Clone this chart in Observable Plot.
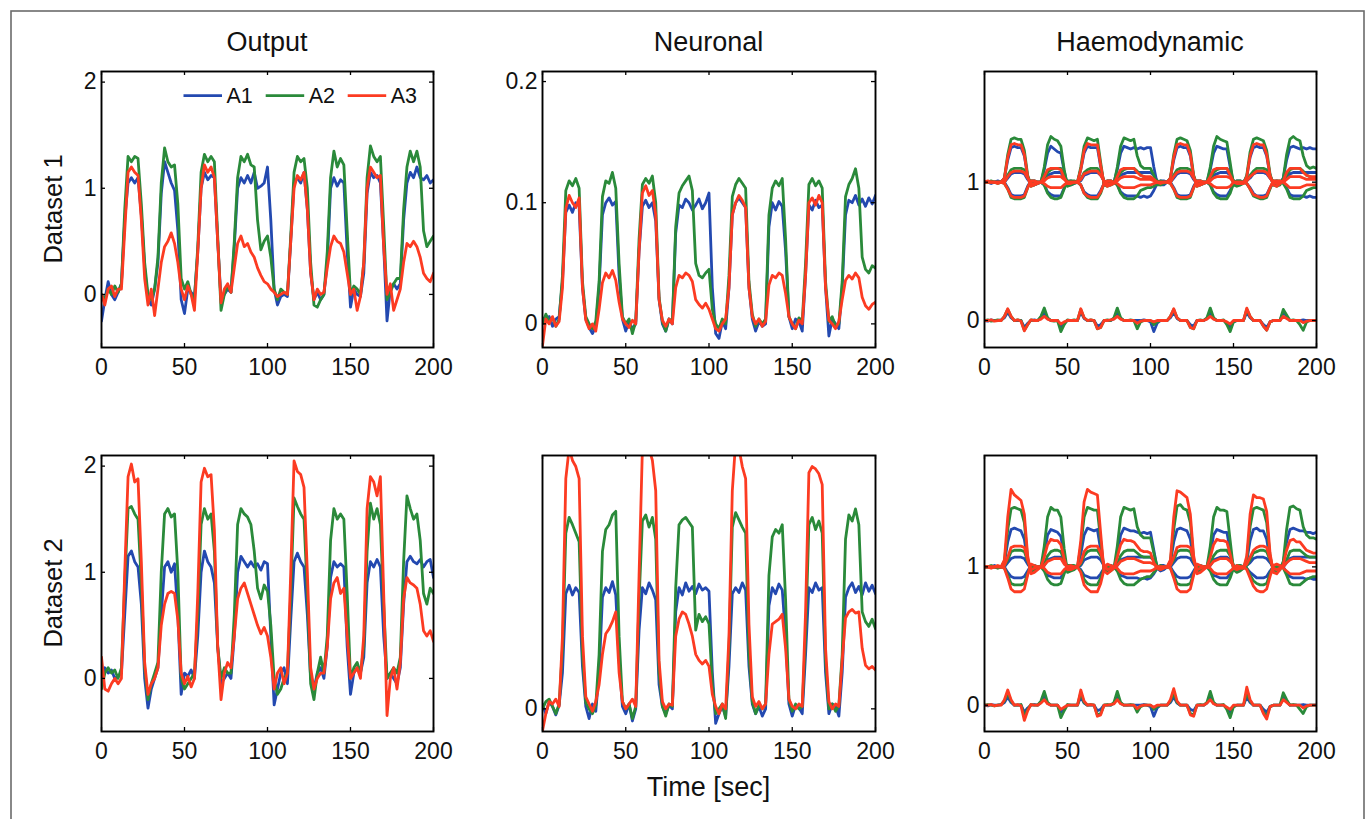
<!DOCTYPE html>
<html>
<head>
<meta charset="utf-8">
<script src="https://cdn.jsdelivr.net/npm/d3@7"></script>
<script src="https://cdn.jsdelivr.net/npm/@observablehq/plot@0.6"></script>
<style>
html,body{margin:0;padding:0;background:#fff;}
#page{position:relative;width:1367px;height:819px;overflow:hidden;font-family:"Liberation Sans",Arial,Helvetica,sans-serif;}
#page svg{position:absolute;overflow:visible;}
</style>
</head>
<body>
<div id="page"></div>
<script>
// ---------- labels ----------
const colTitles = ["Output", "Neuronal", "Haemodynamic"];
const rowLabels = ["Dataset 1", "Dataset 2"];
const xLabel = "Time [sec]";
const regions = ["A1", "A2", "A3"];
const regionColors = ["#2349b0", "#2a8a3a", "#fc3b22"];
const xTicks = [0, 50, 100, 150, 200];

// ---------- time grid (sec) ----------
const time = [0,2,4,6,8,10,12,14,16,18,20,22,24,26,28,30,32,34,36,38,40,42,44,46,48,50,52,54,56,58,
60,62,64,66,68,70,72,74,76,78,80,82,84,86,88,90,92,94,96,98,100,102,104,106,108,110,112,114,116,118,
120,122,124,126,128,130,132,134,136,138,140,142,144,146,148,150,152,154,156,158,160,162,164,166,168,170,172,174,176,178,
180,182,184,186,188,190,192,194,196,198,200];

// ---------- Output, Dataset 1 ----------
const out1_A1 = [-0.25,-0.05,0.12,0.0,-0.05,0.02,0.1,0.7,1.05,1.1,
1.05,1.1,0.75,0.25,-0.05,-0.1,0.05,0.3,0.95,1.25,
1.15,1.05,0.98,0.6,-0.05,-0.18,0.05,0.02,-0.02,0.4,
1.0,1.15,1.08,1.12,1.1,0.5,-0.05,0.0,0.05,0.02,
0.45,1.0,1.1,1.05,1.12,1.05,1.15,1.0,1.02,1.05,
1.2,0.7,0.05,-0.1,-0.02,0.0,-0.02,0.5,1.05,1.1,
1.05,1.15,0.8,0.2,-0.05,0.02,-0.05,0.0,0.3,1.0,
1.1,1.02,1.08,1.05,0.4,-0.12,0.05,0.0,-0.02,0.2,
0.95,1.15,1.1,1.12,1.05,0.45,-0.25,0.05,0.1,0.05,
0.1,0.7,1.05,1.15,1.1,1.2,1.1,1.08,1.12,1.05,
1.08];
const out1_A2 = [0.0,-0.05,0.05,0.0,0.08,0.02,0.1,0.8,1.3,1.25,
1.3,1.28,0.85,0.3,0.0,-0.05,0.05,0.35,1.05,1.38,
1.25,1.2,1.22,0.85,0.15,0.05,0.12,0.0,-0.05,0.45,
1.15,1.32,1.25,1.3,1.25,0.55,-0.15,0.0,0.08,0.02,
0.5,1.1,1.3,1.25,1.32,1.22,1.2,0.7,0.42,0.5,
0.55,0.35,0.05,-0.05,0.05,0.02,0.0,0.55,1.15,1.3,
1.25,1.28,1.0,0.3,-0.1,-0.12,-0.05,0.0,0.4,1.1,
1.35,1.2,1.28,1.22,0.6,0.0,0.08,0.05,0.0,0.3,
1.1,1.4,1.3,1.25,1.3,0.65,-0.05,0.02,0.1,0.15,
0.15,0.8,1.2,1.35,1.25,1.35,1.2,0.6,0.45,0.5,
0.55];
const out1_A3 = [0.0,-0.1,0.05,0.08,-0.02,0.05,0.05,0.6,1.15,1.2,
1.15,1.12,0.7,0.15,-0.1,0.05,-0.2,0.05,0.3,0.45,
0.5,0.58,0.48,0.3,0.05,-0.05,0.08,0.0,-0.15,0.4,
1.0,1.22,1.15,1.2,1.1,0.5,-0.08,0.05,0.1,0.02,
0.25,0.48,0.55,0.45,0.48,0.4,0.35,0.25,0.18,0.12,
0.1,0.05,0.02,-0.02,0.0,0.02,0.0,0.5,1.0,1.12,
1.08,1.15,0.8,0.2,-0.05,0.05,0.0,0.02,0.25,0.45,
0.55,0.5,0.48,0.4,0.2,0.0,0.05,-0.15,-0.02,0.3,
1.0,1.2,1.15,1.1,1.12,0.45,0.0,0.1,-0.15,-0.05,
0.05,0.3,0.48,0.45,0.5,0.45,0.35,0.2,0.15,0.12,
0.2];

// ---------- Output, Dataset 2 ----------
const out2_A1 = [0.0,0.1,0.05,0.08,0.0,0.02,0.05,0.6,1.15,1.2,
1.1,1.05,0.7,0.0,-0.28,-0.1,0.0,0.1,0.6,1.05,
1.1,1.0,1.08,0.6,-0.15,0.05,0.02,0.08,0.0,0.4,
1.0,1.2,1.1,1.05,0.9,0.3,-0.05,0.0,0.05,0.0,
0.4,1.0,1.15,1.1,1.05,1.1,1.05,1.08,1.02,1.1,
1.08,0.4,-0.25,-0.1,0.05,0.1,-0.05,0.55,1.1,1.18,
1.1,1.05,0.6,0.0,-0.1,0.05,0.1,0.0,0.3,0.95,
1.1,1.05,1.08,1.05,0.3,-0.15,0.05,0.1,0.05,0.2,
0.9,1.1,1.05,1.12,1.05,0.4,0.0,0.05,0.0,-0.05,
0.1,0.7,1.1,1.15,1.1,1.08,1.12,1.05,1.1,1.12,
0.95];
const out2_A2 = [-0.1,0.05,0.1,0.05,0.08,0.0,0.1,0.9,1.6,1.62,
1.55,1.5,0.9,0.1,-0.2,-0.05,0.05,0.15,1.0,1.55,
1.6,1.52,1.55,1.0,0.0,-0.1,-0.05,0.0,0.05,0.6,
1.45,1.6,1.5,1.55,1.2,0.3,0.0,0.1,0.05,0.05,
0.6,1.45,1.6,1.55,1.52,1.45,1.2,0.85,0.75,0.88,
0.82,0.5,0.0,-0.15,-0.1,0.0,0.05,0.8,1.7,1.62,
1.55,1.5,0.8,-0.05,-0.2,0.05,0.2,0.05,0.4,1.3,
1.6,1.5,1.55,1.5,0.8,0.0,0.1,0.15,0.05,0.3,
1.2,1.65,1.5,1.6,1.45,0.7,0.0,0.05,0.1,0.05,
0.2,1.1,1.72,1.6,1.5,1.55,1.3,0.8,0.7,0.85,
0.8];
const out2_A3 = [0.2,-0.1,-0.12,-0.05,0.0,-0.05,0.0,1.0,1.9,2.02,
1.85,1.88,1.1,0.15,-0.15,-0.05,0.0,0.1,0.5,0.7,
0.8,0.82,0.8,0.55,0.05,-0.05,0.02,-0.08,0.0,0.8,
1.85,1.98,1.9,1.92,1.4,0.3,-0.2,0.05,0.15,0.1,
0.4,0.75,0.85,0.9,0.8,0.7,0.6,0.5,0.42,0.48,
0.4,0.2,-0.1,0.05,0.1,-0.05,0.05,1.0,2.05,1.95,
1.92,1.8,1.0,0.1,-0.1,0.0,0.05,0.05,0.3,0.75,
0.9,0.95,0.8,0.85,0.4,0.0,0.05,0.1,0.0,0.4,
1.6,1.9,1.85,1.72,1.9,0.8,-0.35,0.0,0.1,-0.1,
0.15,0.75,0.95,0.9,0.88,0.85,0.7,0.45,0.4,0.45,
0.35];

// ---------- Neuronal, Dataset 1 ----------
const neu1_A1 = [0.005,0.003,0.006,-0.002,0.004,0.006,0.035,0.092,0.098,0.092,
0.1,0.097,0.03,0.004,-0.003,-0.008,-0.002,0.03,0.09,0.1,
0.104,0.098,0.101,0.04,0.004,-0.006,0.002,-0.004,0.0,0.06,
0.097,0.102,0.096,0.1,0.085,0.02,0.0,-0.006,0.004,0.0,
0.075,0.098,0.096,0.103,0.1,0.094,0.098,0.103,0.095,0.1,
0.108,0.03,-0.008,-0.012,0.002,-0.004,0.03,0.09,0.1,0.104,
0.1,0.096,0.03,0.004,-0.006,0.002,-0.002,0.0,0.08,0.1,
0.094,0.101,0.097,0.06,0.006,-0.004,0.004,0.002,-0.006,0.04,
0.098,0.094,0.102,0.096,0.098,0.03,-0.01,0.004,0.0,-0.004,
0.03,0.09,0.102,0.1,0.106,0.098,0.103,0.097,0.104,0.099,
0.106];
const neu1_A2 = [0.0,0.008,0.002,0.005,-0.002,0.004,0.04,0.11,0.118,0.114,
0.12,0.112,0.035,0.006,0.0,-0.004,0.002,0.035,0.105,0.118,
0.116,0.125,0.112,0.05,0.006,0.0,0.004,-0.008,0.002,0.07,
0.115,0.12,0.116,0.122,0.1,0.022,0.002,-0.006,0.004,0.002,
0.08,0.108,0.114,0.118,0.122,0.11,0.05,0.04,0.038,0.042,
0.045,0.012,0.0,-0.004,0.004,0.0,0.04,0.105,0.115,0.12,
0.116,0.112,0.035,0.008,-0.002,0.004,0.0,0.004,0.09,0.112,
0.118,0.114,0.12,0.07,0.006,0.0,-0.004,0.005,0.002,0.05,
0.115,0.12,0.114,0.118,0.112,0.035,0.002,0.006,-0.002,0.0,
0.035,0.105,0.115,0.12,0.128,0.112,0.055,0.045,0.042,0.048,
0.046];
const neu1_A3 = [-0.018,0.004,0.0,0.006,-0.002,0.002,0.03,0.095,0.106,0.1,
0.096,0.104,0.03,0.003,-0.004,0.0,-0.006,0.012,0.034,0.042,
0.038,0.044,0.036,0.018,0.004,0.0,-0.003,0.003,0.0,0.06,
0.108,0.114,0.106,0.11,0.09,0.02,0.003,-0.002,0.004,0.0,
0.03,0.04,0.038,0.042,0.04,0.035,0.02,0.016,0.013,0.017,
0.012,0.004,-0.004,-0.006,0.0,0.004,0.03,0.09,0.1,0.106,
0.102,0.096,0.03,0.006,0.0,0.004,-0.002,0.002,0.032,0.04,
0.038,0.042,0.04,0.025,0.006,0.0,-0.004,0.003,0.0,0.04,
0.1,0.104,0.098,0.106,0.1,0.03,0.003,0.0,-0.004,0.002,
0.02,0.036,0.04,0.037,0.042,0.038,0.022,0.015,0.012,0.016,
0.018];

// ---------- Neuronal, Dataset 2 ----------
const neu2_A1 = [0.004,-0.004,0.006,0.002,-0.005,0.003,0.03,0.095,0.102,0.094,
0.1,0.096,0.035,0.002,-0.008,0.004,-0.002,0.03,0.092,0.1,
0.096,0.105,0.094,0.04,0.002,-0.004,0.004,-0.01,0.0,0.065,
0.1,0.095,0.104,0.098,0.09,0.02,0.002,-0.004,0.003,0.0,
0.08,0.1,0.094,0.104,0.097,0.101,0.095,0.103,0.098,0.1,
0.097,0.03,-0.012,-0.004,0.002,-0.006,0.035,0.095,0.1,0.096,
0.104,0.098,0.035,0.004,-0.004,0.002,-0.006,0.0,0.085,0.1,
0.095,0.103,0.098,0.06,0.004,-0.006,0.003,0.001,-0.004,0.045,
0.1,0.096,0.104,0.098,0.1,0.03,-0.004,0.004,0.002,-0.006,
0.03,0.092,0.1,0.104,0.096,0.101,0.094,0.104,0.097,0.102,
0.095];
const neu2_A2 = [0.0,0.006,0.008,0.002,-0.004,0.004,0.05,0.145,0.158,0.152,
0.145,0.138,0.045,0.005,0.0,-0.004,0.003,0.045,0.13,0.148,
0.152,0.16,0.163,0.06,0.006,0.0,0.004,-0.008,0.002,0.09,
0.155,0.16,0.15,0.158,0.14,0.03,0.002,-0.006,0.004,0.002,
0.1,0.152,0.156,0.158,0.154,0.15,0.065,0.078,0.072,0.076,
0.07,0.02,-0.004,0.0,0.004,-0.008,0.05,0.15,0.162,0.156,
0.15,0.145,0.045,0.006,-0.004,0.003,0.0,0.004,0.11,0.142,
0.148,0.145,0.152,0.09,0.008,-0.002,0.004,0.0,0.002,0.06,
0.152,0.158,0.148,0.155,0.145,0.04,0.0,0.004,-0.002,0.003,
0.045,0.14,0.16,0.155,0.165,0.152,0.08,0.072,0.068,0.074,
0.066];
const neu2_A3 = [-0.018,-0.004,0.006,0.004,0.008,0.002,0.06,0.19,0.215,0.205,
0.2,0.19,0.06,0.01,0.004,-0.002,0.006,0.02,0.045,0.062,
0.066,0.072,0.08,0.03,0.006,0.0,0.004,0.008,0.002,0.11,
0.215,0.22,0.215,0.205,0.18,0.04,0.006,0.0,0.004,0.003,
0.06,0.074,0.08,0.078,0.07,0.06,0.045,0.04,0.037,0.04,
0.035,0.012,0.002,-0.004,0.004,0.0,0.06,0.18,0.22,0.215,
0.2,0.19,0.07,0.01,0.002,0.006,0.0,0.004,0.045,0.07,
0.072,0.074,0.078,0.05,0.008,0.002,0.0,0.004,0.002,0.08,
0.195,0.2,0.198,0.194,0.185,0.05,0.006,0.0,0.004,0.002,
0.04,0.075,0.08,0.082,0.079,0.08,0.05,0.036,0.033,0.035,
0.032];

// ---------- Haemodynamic, Dataset 1 (s, f, v, q per region) ----------
const hae1_A1_s = [0,-0.005,0.005,0,0,0.005,
0.02,0.06,0.02,0,0,0,-0.05,-0.02,0,0.005,0,
0.02,0.06,0.015,0,0,0,-0.05,-0.02,0,0,0,0,
0.06,0.015,0,0,0,-0.04,-0.03,0,0,0,0.015,
0.06,0.015,0,0,0,0,0,0,0.005,0,-0.01,-0.08,-0.02,0,0,0,
0.02,0.06,0.015,0,0,0,-0.03,-0.04,0,0,0,
0.015,0.06,0.015,0,0,0,-0.02,-0.05,-0.01,0,0,
0,0.06,0.02,0,0,0,-0.03,-0.05,-0.01,0,0,0,
0.06,0.03,0,0,0,0,0.005,0,0,0,0];
const hae1_A1_f = [1.0,1.0,0.99,1.0,1.01,1.0,
1.03,1.16,1.25,1.26,1.25,1.25,1.19,1.04,0.98,0.98,0.99,
1.0,1.09,1.21,1.26,1.24,1.22,1.21,1.08,0.98,0.98,0.99,1.0,
1.09,1.21,1.26,1.25,1.25,1.25,1.11,0.99,0.98,0.98,1.0,
1.09,1.21,1.26,1.25,1.24,1.25,1.24,1.25,1.24,1.25,1.25,1.11,0.99,0.98,0.98,1.0,
1.03,1.16,1.25,1.26,1.25,1.25,1.19,1.04,0.98,0.98,0.99,
1.0,1.09,1.21,1.26,1.25,1.24,1.24,1.11,0.99,0.98,0.98,
1.0,1.04,1.18,1.25,1.26,1.25,1.25,1.19,1.05,0.98,0.98,0.99,
1.03,1.16,1.25,1.26,1.25,1.24,1.25,1.24,1.25,1.24,1.24];
const hae1_A1_v = [1,1,1,1,1,1,
1.0,1.03,1.06,1.07,1.07,1.07,1.06,1.02,0.99,0.99,1.0,
1.0,1.01,1.05,1.06,1.07,1.07,1.07,1.03,1.0,0.99,1.0,1.0,
1.01,1.05,1.06,1.07,1.07,1.07,1.05,1.01,0.99,0.99,1.0,
1.01,1.05,1.06,1.07,1.07,1.07,1.07,1.07,1.07,1.07,1.07,1.05,1.01,0.99,0.99,1.0,
1.0,1.03,1.06,1.07,1.07,1.07,1.06,1.02,0.99,0.99,1.0,
1.0,1.01,1.05,1.06,1.07,1.07,1.07,1.05,1.01,0.99,0.99,
1.0,1.01,1.03,1.06,1.07,1.07,1.07,1.06,1.03,1.0,0.99,1.0,
1.0,1.03,1.06,1.07,1.07,1.07,1.07,1.07,1.07,1.07,1.07];
const hae1_A1_q = [1,1,1,1,1,1,
1.0,0.96,0.91,0.9,0.9,0.9,0.91,0.97,1.01,1.01,1.0,
1.0,0.98,0.93,0.91,0.9,0.9,0.9,0.96,1.0,1.01,1.0,1.0,
0.98,0.93,0.91,0.9,0.9,0.9,0.94,0.99,1.01,1.01,1.0,
0.98,0.93,0.91,0.9,0.9,0.9,0.9,0.89,0.9,0.89,0.9,0.94,0.99,1.01,1.01,1.0,
1.0,0.96,0.91,0.9,0.9,0.9,0.91,0.97,1.01,1.01,1.0,
1.0,0.98,0.93,0.91,0.9,0.9,0.9,0.94,0.99,1.01,1.01,
1.0,0.99,0.96,0.92,0.9,0.9,0.9,0.91,0.96,1.0,1.01,1.0,
1.0,0.96,0.91,0.9,0.9,0.9,0.9,0.89,0.9,0.89,0.89];

const hae1_A2_s = [0,0.005,-0.005,0,0.005,0,
0.03,0.08,0.03,0,0.005,0,-0.07,-0.03,0.005,0,0,
0.03,0.09,0.02,0,-0.005,0,-0.08,-0.03,0.005,0,0.005,0,
0.08,0.02,0,0.005,0,-0.06,-0.05,0,0.005,0,0.02,
0.09,0.02,0,0,0.005,0,-0.06,-0.01,0,0,0,-0.03,-0.01,0,0,0,
0.03,0.08,0.02,0,0,0,-0.05,-0.06,0,0.005,0,
0.02,0.09,0.02,0,0,0.005,-0.03,-0.08,-0.01,0,0,
0,0.08,0.03,0,0,0,-0.04,-0.07,-0.01,0,0,0,
0.08,0.04,0,0.005,0,-0.03,-0.07,-0.01,0,0,0];
const hae1_A2_f = [1.0,1.0,1.01,1.0,0.99,1.0,
1.03,1.2,1.31,1.32,1.31,1.31,1.23,1.05,0.97,0.98,0.99,
1.0,1.11,1.27,1.33,1.31,1.3,1.26,1.09,0.97,0.98,0.99,1.0,
1.11,1.26,1.32,1.31,1.3,1.31,1.14,0.98,0.97,0.98,0.99,
1.11,1.26,1.32,1.31,1.3,1.31,1.19,1.12,1.1,1.1,1.1,1.05,0.98,0.98,0.99,1.0,
1.03,1.2,1.31,1.32,1.31,1.3,1.23,1.05,0.97,0.98,0.99,
1.0,1.11,1.26,1.33,1.31,1.3,1.29,1.14,0.98,0.97,0.98,
0.99,1.05,1.22,1.31,1.32,1.31,1.3,1.23,1.06,0.98,0.97,0.98,
1.03,1.2,1.31,1.33,1.31,1.3,1.19,1.12,1.1,1.11,1.1];
const hae1_A2_v = [1,1,1,1,1,1,
1.0,1.05,1.09,1.1,1.1,1.1,1.09,1.04,0.99,0.99,1.0,
1.0,1.02,1.07,1.09,1.1,1.1,1.1,1.04,1.0,0.99,1.0,1.0,
1.02,1.07,1.09,1.1,1.1,1.1,1.07,1.01,0.99,0.99,1.0,
1.02,1.07,1.09,1.1,1.1,1.1,1.08,1.05,1.04,1.03,1.03,1.03,1.01,1.0,1.0,1.0,
1.0,1.05,1.09,1.1,1.1,1.1,1.09,1.04,0.99,0.99,1.0,
1.0,1.02,1.07,1.09,1.1,1.1,1.1,1.07,1.01,0.99,0.99,
1.0,1.01,1.05,1.08,1.1,1.1,1.1,1.09,1.04,1.0,0.99,1.0,
1.0,1.05,1.09,1.1,1.1,1.1,1.08,1.05,1.04,1.03,1.03];
const hae1_A2_q = [1,1,1,1,1,1,
0.99,0.95,0.89,0.88,0.88,0.88,0.89,0.96,1.01,1.01,1.0,
1.0,0.98,0.92,0.89,0.88,0.88,0.89,0.95,1.01,1.01,1.01,1.0,
0.98,0.92,0.89,0.88,0.88,0.88,0.92,0.99,1.01,1.01,1.0,
0.98,0.92,0.89,0.88,0.88,0.88,0.9,0.94,0.95,0.96,0.96,0.97,0.99,1.01,1.0,1.0,
0.99,0.95,0.89,0.88,0.88,0.88,0.89,0.96,1.01,1.01,1.0,
1.0,0.98,0.92,0.89,0.88,0.88,0.88,0.92,0.99,1.01,1.01,
1.0,0.99,0.95,0.9,0.89,0.88,0.88,0.89,0.95,1.01,1.01,1.01,
0.99,0.95,0.89,0.88,0.88,0.88,0.9,0.94,0.95,0.96,0.96];

const hae1_A3_s = [0,0,0.005,-0.005,0,0,
0.03,0.085,0.03,0,0.005,-0.005,-0.075,-0.03,0.005,0,0,
0.01,0.03,0.01,0,0,0,-0.025,-0.01,0,0,0,0,
0.085,0.02,0,0.005,0,-0.06,-0.05,0,0,0.005,0.01,
0.03,0.01,0,0,0,0,-0.02,-0.005,0,0,0,-0.01,0,0,0,0,
0.03,0.085,0.02,0,0,0,-0.05,-0.06,0,0,0,
0.01,0.03,0.01,0,0,0,-0.01,-0.025,0,0,0,
0,0.09,0.03,0,0,0,-0.04,-0.07,-0.01,0,0,0,
0.03,0.015,0,0,0,0,-0.015,-0.005,0,0,0];
const hae1_A3_f = [1.0,1.01,1.0,1.0,0.99,1.0,
1.03,1.18,1.27,1.28,1.27,1.27,1.2,1.04,0.97,0.98,0.99,
1.0,1.04,1.09,1.1,1.1,1.1,1.09,1.03,0.99,0.99,1.0,1.0,
1.09,1.23,1.28,1.27,1.27,1.27,1.12,0.99,0.97,0.98,0.99,
1.04,1.09,1.1,1.1,1.1,1.1,1.07,1.05,1.04,1.04,1.04,1.02,1.0,0.99,1.0,1.0,
1.03,1.18,1.27,1.28,1.27,1.27,1.2,1.04,0.97,0.98,0.99,
1.0,1.04,1.09,1.1,1.1,1.1,1.1,1.05,1.0,0.99,0.99,
0.99,1.04,1.19,1.27,1.28,1.27,1.27,1.2,1.05,0.98,0.97,0.99,
1.01,1.07,1.1,1.1,1.1,1.1,1.07,1.05,1.04,1.04,1.04];
const hae1_A3_v = [1,1,1,1,1,1,
1.0,1.04,1.07,1.08,1.08,1.08,1.07,1.03,0.99,0.99,1.0,
1.0,1.01,1.03,1.04,1.04,1.04,1.04,1.02,1.0,1.0,1.0,1.0,
1.02,1.06,1.07,1.08,1.08,1.08,1.05,1.01,0.99,0.99,1.0,
1.01,1.03,1.04,1.04,1.04,1.04,1.03,1.02,1.02,1.02,1.02,1.01,1.0,1.0,1.0,1.0,
1.0,1.04,1.07,1.08,1.08,1.08,1.07,1.03,0.99,0.99,1.0,
1.0,1.01,1.03,1.04,1.04,1.04,1.04,1.03,1.0,1.0,1.0,
1.0,1.01,1.04,1.06,1.08,1.08,1.08,1.07,1.03,1.0,0.99,1.0,
1.0,1.02,1.04,1.04,1.04,1.04,1.03,1.02,1.02,1.02,1.02];
const hae1_A3_q = [1,1,1,1,1,1,
0.99,0.95,0.9,0.89,0.89,0.89,0.9,0.96,1.01,1.01,1.0,
1.0,0.99,0.97,0.96,0.96,0.96,0.96,0.98,1.0,1.0,1.0,1.0,
0.98,0.92,0.9,0.89,0.89,0.89,0.93,0.99,1.01,1.01,1.0,
0.99,0.97,0.96,0.96,0.96,0.96,0.97,0.98,0.98,0.98,0.98,0.99,1.0,1.0,1.0,1.0,
0.99,0.95,0.9,0.89,0.89,0.89,0.9,0.96,1.01,1.01,1.0,
1.0,0.99,0.97,0.96,0.96,0.96,0.96,0.97,1.0,1.0,1.0,
1.0,0.99,0.95,0.91,0.9,0.89,0.89,0.9,0.96,1.01,1.01,1.01,
1.0,0.98,0.96,0.96,0.96,0.96,0.97,0.98,0.98,0.98,0.98];

// ---------- Haemodynamic, Dataset 2 ----------
const hae2_A1_s = hae1_A1_s;
const hae2_A1_f = [1.0,1.0,1.0,1.01,1.0,1.0,
1.03,1.18,1.27,1.28,1.27,1.26,1.2,1.04,0.97,0.98,0.99,
1.0,1.09,1.23,1.27,1.26,1.25,1.22,1.08,0.97,0.98,0.99,1.0,
1.09,1.23,1.28,1.27,1.26,1.27,1.12,0.99,0.97,0.98,0.99,
1.09,1.23,1.28,1.27,1.26,1.26,1.25,1.24,1.25,1.24,1.25,1.12,0.99,0.97,0.98,1.0,
1.03,1.18,1.27,1.28,1.27,1.26,1.2,1.04,0.97,0.98,0.99,
1.0,1.09,1.23,1.27,1.26,1.25,1.25,1.12,0.99,0.97,0.98,
0.99,1.04,1.19,1.27,1.28,1.26,1.26,1.2,1.05,0.98,0.97,0.99,
1.03,1.18,1.27,1.28,1.27,1.26,1.26,1.25,1.25,1.24,1.25];
const hae2_A1_v = hae1_A1_v;
const hae2_A1_q = [1,1,1,1,1,1,
1.0,0.96,0.93,0.92,0.92,0.92,0.93,0.97,1.01,1.01,1.0,
1.0,0.98,0.94,0.93,0.92,0.92,0.92,0.97,1.0,1.01,1.0,1.0,
0.98,0.94,0.93,0.92,0.92,0.92,0.95,0.99,1.01,1.01,1.0,
0.98,0.94,0.93,0.92,0.92,0.92,0.92,0.91,0.92,0.91,0.92,0.95,0.99,1.01,1.01,1.0,
1.0,0.96,0.93,0.92,0.92,0.92,0.93,0.97,1.01,1.01,1.0,
1.0,0.98,0.94,0.93,0.92,0.92,0.92,0.95,0.99,1.01,1.01,
1.0,0.99,0.96,0.94,0.92,0.92,0.92,0.93,0.97,1.0,1.01,1.0,
1.0,0.96,0.93,0.92,0.92,0.92,0.92,0.91,0.92,0.91,0.91];

const hae2_A2_s = [0,0.005,0,-0.005,0,0.005,
0.03,0.09,0.03,0,0,0.005,-0.08,-0.03,0.005,0,0,
0.03,0.1,0.02,0,0,0,-0.09,-0.04,0.005,0,0,0,
0.09,0.02,0,0.005,0,-0.07,-0.06,0,0.005,0,0.02,
0.1,0.02,0,0,0.005,0,-0.05,-0.01,0,0,0,-0.03,-0.01,0,0,0,
0.03,0.09,0.02,0,0,0,-0.06,-0.07,0,0.005,0,
0.02,0.1,0.02,0,0,0.005,-0.03,-0.09,-0.01,0,0,
0,0.09,0.03,0,0,0,-0.05,-0.08,-0.01,0,0,0,
0.09,0.04,0,0.005,0,-0.03,-0.06,-0.01,0,0,0];
const hae2_A2_f = [1.0,1.0,1.01,1.0,0.99,1.0,
1.04,1.27,1.42,1.43,1.42,1.41,1.32,1.06,0.96,0.97,0.99,
1.0,1.15,1.36,1.43,1.41,1.41,1.36,1.13,0.96,0.97,0.98,1.0,
1.15,1.36,1.43,1.42,1.41,1.41,1.19,0.98,0.96,0.97,0.99,
1.15,1.36,1.43,1.42,1.41,1.42,1.29,1.23,1.21,1.21,1.21,1.1,1.0,0.98,0.99,1.0,
1.04,1.27,1.44,1.45,1.42,1.41,1.32,1.06,0.96,0.97,0.99,
1.0,1.15,1.36,1.43,1.41,1.41,1.4,1.19,0.98,0.96,0.97,
0.99,1.06,1.29,1.42,1.43,1.42,1.41,1.32,1.08,0.97,0.96,0.98,
1.04,1.27,1.43,1.44,1.42,1.41,1.29,1.23,1.21,1.21,1.2];
const hae2_A2_v = [1,1,1,1,1,1,
1.01,1.05,1.11,1.12,1.12,1.12,1.11,1.04,0.99,0.99,1.0,
1.0,1.02,1.08,1.11,1.12,1.12,1.11,1.05,0.99,0.99,0.99,1.0,
1.02,1.08,1.11,1.12,1.12,1.12,1.08,1.01,0.99,0.99,1.0,
1.02,1.08,1.11,1.12,1.12,1.12,1.1,1.08,1.07,1.07,1.07,1.05,1.01,0.99,1.0,1.0,
1.01,1.05,1.11,1.12,1.12,1.12,1.11,1.04,0.99,0.99,1.0,
1.0,1.02,1.08,1.11,1.12,1.12,1.12,1.08,1.01,0.99,0.99,
1.0,1.01,1.05,1.1,1.11,1.12,1.12,1.11,1.05,0.99,0.99,0.99,
1.01,1.05,1.11,1.12,1.12,1.12,1.1,1.08,1.07,1.07,1.07];
const hae2_A2_q = [1,1,1,1,1,1,
0.99,0.94,0.88,0.87,0.87,0.87,0.88,0.95,1.01,1.01,1.0,
1.0,0.97,0.91,0.88,0.87,0.87,0.88,0.95,1.01,1.01,1.01,1.0,
0.97,0.91,0.88,0.87,0.87,0.87,0.92,0.99,1.01,1.01,1.0,
0.97,0.91,0.88,0.87,0.87,0.87,0.89,0.91,0.92,0.93,0.93,0.96,0.99,1.01,1.0,1.0,
0.99,0.94,0.88,0.87,0.87,0.87,0.88,0.95,1.01,1.01,1.0,
1.0,0.97,0.91,0.88,0.87,0.87,0.87,0.92,0.99,1.01,1.01,
1.0,0.99,0.94,0.9,0.88,0.87,0.87,0.88,0.95,1.01,1.01,1.01,
0.99,0.94,0.88,0.87,0.87,0.87,0.89,0.91,0.92,0.93,0.93];

const hae2_A3_s = [0,0,0.005,-0.005,0,0,
0.04,0.11,0.04,0,0.005,-0.005,-0.11,-0.04,0.005,0,0,
0.015,0.04,0.01,0,0,0,-0.03,-0.015,0,0,0,0,
0.11,0.03,0,0.005,0,-0.08,-0.07,0,0,0.005,0.01,
0.04,0.01,0,0,0,0,-0.025,-0.005,0,0,0,-0.015,0,0,0,0,
0.04,0.12,0.03,0,0,0,-0.07,-0.08,0,0,0,
0.015,0.04,0.01,0,0,0,-0.015,-0.03,0,0,0,
0,0.13,0.04,0,0,0,-0.06,-0.1,-0.01,0,0,0,
0.04,0.02,0,0,0,0,-0.02,-0.005,0,0,0];
const hae2_A3_f = [1.0,1.0,0.99,1.0,1.01,1.0,
1.05,1.36,1.56,1.52,1.5,1.48,1.38,1.08,0.95,0.96,0.98,
1.0,1.07,1.16,1.2,1.19,1.19,1.16,1.06,0.98,0.98,0.99,1.0,
1.19,1.47,1.56,1.54,1.53,1.52,1.24,0.97,0.95,0.97,0.99,
1.07,1.16,1.2,1.19,1.19,1.18,1.15,1.12,1.11,1.11,1.1,1.03,0.99,0.98,0.99,1.0,
1.05,1.36,1.55,1.54,1.52,1.5,1.38,1.08,0.95,0.96,0.98,
1.0,1.07,1.16,1.2,1.19,1.19,1.18,1.09,0.99,0.98,0.99,
0.99,1.08,1.38,1.52,1.5,1.5,1.49,1.4,1.1,0.96,0.95,0.98,
1.02,1.12,1.19,1.2,1.18,1.18,1.15,1.12,1.11,1.1,1.1];
const hae2_A3_v = [1,1,1,1,1,1,
1.01,1.07,1.14,1.15,1.15,1.15,1.14,1.05,0.98,0.99,1.0,
1.0,1.01,1.04,1.05,1.06,1.06,1.06,1.02,1.0,0.99,1.0,1.0,
1.03,1.11,1.14,1.15,1.15,1.15,1.1,1.02,0.98,0.99,1.0,
1.01,1.04,1.05,1.06,1.06,1.06,1.05,1.04,1.03,1.03,1.03,1.02,1.0,1.0,1.0,1.0,
1.01,1.07,1.14,1.15,1.15,1.15,1.14,1.05,0.98,0.99,1.0,
1.0,1.01,1.04,1.05,1.06,1.06,1.06,1.04,1.01,0.99,1.0,
1.0,1.02,1.07,1.12,1.14,1.15,1.15,1.14,1.06,0.99,0.98,0.99,
1.0,1.03,1.05,1.06,1.06,1.06,1.05,1.04,1.03,1.03,1.03];
const hae2_A3_q = [1,1,1,1,1,1,
0.99,0.92,0.84,0.82,0.82,0.82,0.84,0.94,1.02,1.01,1.0,
1.0,0.99,0.96,0.95,0.95,0.95,0.95,0.98,1.0,1.01,1.0,1.0,
0.96,0.87,0.84,0.82,0.82,0.82,0.88,0.98,1.02,1.01,1.0,
0.99,0.96,0.95,0.95,0.95,0.95,0.96,0.97,0.97,0.97,0.97,0.98,1.0,1.0,1.0,1.0,
0.99,0.92,0.84,0.82,0.82,0.82,0.84,0.94,1.02,1.01,1.0,
1.0,0.99,0.96,0.95,0.95,0.95,0.95,0.97,0.99,1.01,1.0,
1.0,0.98,0.92,0.86,0.83,0.82,0.82,0.84,0.93,1.01,1.02,1.01,
0.99,0.97,0.95,0.95,0.95,0.95,0.96,0.97,0.97,0.97,0.97];

// ---------- build ----------
function rowsFrom(list) {
  const rows = [];
  for (const [region, id, values] of list) {
    if (values.length !== time.length) throw new Error("length mismatch in " + id + ": " + values.length);
    values.forEach((v, i) => rows.push({t: time[i], v, region, id}));
  }
  return rows;
}
function haeList(p) {
  const out = [];
  for (const r of regions) for (const st of ["s", "f", "v", "q"]) out.push([r, r + st, p[r][st]]);
  return out;
}

const panels = [
  {row: 0, col: 0, yDomain: [-0.5, 2.1], yTicks: [0, 1, 2],
   series: [["A1","A1",out1_A1],["A2","A2",out1_A2],["A3","A3",out1_A3]]},
  {row: 0, col: 1, yDomain: [-0.0195, 0.2083], yTicks: [0, 0.1, 0.2],
   series: [["A1","A1",neu1_A1],["A2","A2",neu1_A2],["A3","A3",neu1_A3]]},
  {row: 0, col: 2, yDomain: [-0.195, 1.8], yTicks: [0, 1],
   series: haeList({A1:{s:hae1_A1_s,f:hae1_A1_f,v:hae1_A1_v,q:hae1_A1_q},
                    A2:{s:hae1_A2_s,f:hae1_A2_f,v:hae1_A2_v,q:hae1_A2_q},
                    A3:{s:hae1_A3_s,f:hae1_A3_f,v:hae1_A3_v,q:hae1_A3_q}})},
  {row: 1, col: 0, yDomain: [-0.5, 2.1], yTicks: [0, 1, 2],
   series: [["A1","A1",out2_A1],["A2","A2",out2_A2],["A3","A3",out2_A3]]},
  {row: 1, col: 1, yDomain: [-0.0187, 0.2091], yTicks: [0],
   series: [["A1","A1",neu2_A1],["A2","A2",neu2_A2],["A3","A3",neu2_A3]]},
  {row: 1, col: 2, yDomain: [-0.19, 1.805], yTicks: [0, 1],
   series: haeList({A1:{s:hae2_A1_s,f:hae2_A1_f,v:hae2_A1_v,q:hae2_A1_q},
                    A2:{s:hae2_A2_s,f:hae2_A2_f,v:hae2_A2_v,q:hae2_A2_q},
                    A3:{s:hae2_A3_s,f:hae2_A3_f,v:hae2_A3_v,q:hae2_A3_q}})}
];

const page = document.getElementById("page");
const colLeft = [101, 542, 984], colWidth = [332, 333, 332];
const rowTop = [71, 455], rowHeight = [276, 276];
const M = {l: 70, r: 30, t: 12, b: 50};
const FONT = '"Liberation Sans", Arial, Helvetica, sans-serif';
const TICK = 4;

for (const p of panels) {
  const W = colWidth[p.col], H = rowHeight[p.row];
  const rows = rowsFrom(p.series);
  const svg = Plot.plot({
    width: W + M.l + M.r, height: H + M.t + M.b,
    marginLeft: M.l, marginRight: M.r, marginTop: M.t, marginBottom: M.b,
    style: {fontFamily: FONT, fontSize: "23px", color: "#111", background: "transparent", overflow: "visible"},
    x: {domain: [0, 200]},
    y: {domain: p.yDomain},
    color: {domain: regions, range: regionColors},
    marks: [
      Plot.line(rows, {x: "t", y: "v", z: "id", stroke: "region", strokeWidth: 2.8,
                       strokeLinejoin: "round", strokeLinecap: "round", clip: true}),
      Plot.tickX(xTicks, {x: d => d, insetTop: H - TICK, stroke: "#000", strokeWidth: 1.3}),
      Plot.tickX(xTicks, {x: d => d, insetBottom: H - TICK, stroke: "#000", strokeWidth: 1.3}),
      Plot.tickY(p.yTicks, {y: d => d, insetRight: W - TICK, stroke: "#000", strokeWidth: 1.3}),
      Plot.tickY(p.yTicks, {y: d => d, insetLeft: W - TICK, stroke: "#000", strokeWidth: 1.3}),
      Plot.frame({stroke: "#000", strokeWidth: 1.9}),
      Plot.axisX(xTicks, {tickSize: 0, tickPadding: 11, tickFormat: d => String(d), label: null, fontSize: 23}),
      Plot.axisY(p.yTicks, {tickSize: 0, tickPadding: 5, tickFormat: d => String(d), label: null, fontSize: 23})
    ]
  });
  svg.style.left = (colLeft[p.col] - M.l) + "px";
  svg.style.top = (rowTop[p.row] - M.t) + "px";
  page.appendChild(svg);
}

// ---------- overlay: figure frame, titles, labels, legend ----------
const ov = d3.select(page).append("svg")
  .attr("width", 1367).attr("height", 819)
  .style("left", "0px").style("top", "0px")
  .style("pointer-events", "none")
  .attr("font-family", FONT).attr("fill", "#111");
ov.append("rect").attr("x", 11).attr("y", 11).attr("width", 1353).attr("height", 900)
  .attr("fill", "none").attr("stroke", "#6b6b6b").attr("stroke-width", 1.6);
colTitles.forEach((t, i) => {
  ov.append("text").attr("x", colLeft[i] + colWidth[i] / 2).attr("y", 51)
    .attr("text-anchor", "middle").attr("font-size", 27).text(t);
});
rowLabels.forEach((t, i) => {
  ov.append("text").attr("transform", `translate(61.5,${rowTop[i] + rowHeight[i] / 2}) rotate(-90)`)
    .attr("text-anchor", "middle").attr("font-size", 25.5).text(t);
});
ov.append("text").attr("x", colLeft[1] + colWidth[1] / 2).attr("y", 796)
  .attr("text-anchor", "middle").attr("font-size", 27).text(xLabel);
const legX = [183.5, 265.7, 347.7];
regions.forEach((r, i) => {
  ov.append("line").attr("x1", legX[i]).attr("x2", legX[i] + 38.5).attr("y1", 95.7).attr("y2", 95.7)
    .attr("stroke", regionColors[i]).attr("stroke-width", 2.8);
  ov.append("text").attr("x", legX[i] + 43).attr("y", 103.3).attr("font-size", 21.5).text(r);
});
</script>
</body>
</html>
